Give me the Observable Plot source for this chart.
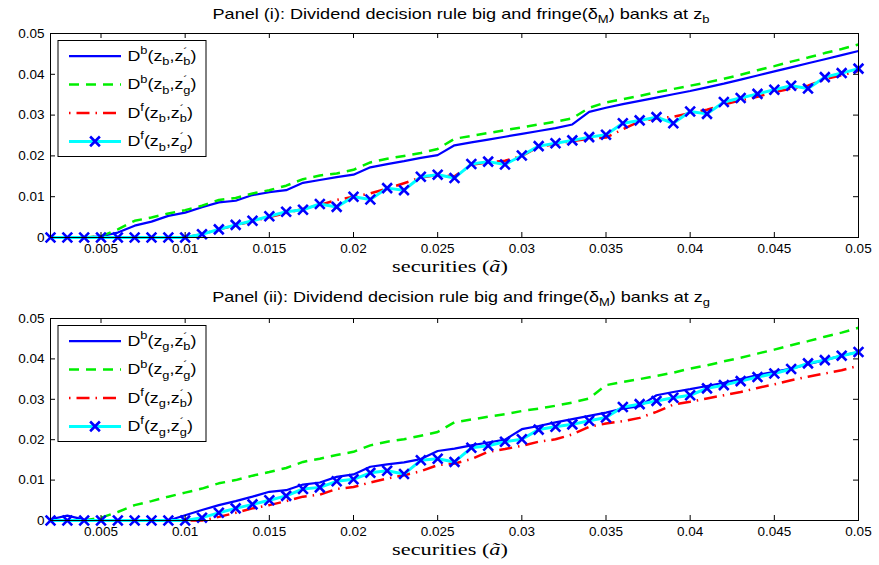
<!DOCTYPE html>
<html><head><meta charset="utf-8">
<script src="https://cdn.jsdelivr.net/npm/d3@7"></script>
<script src="https://cdn.jsdelivr.net/npm/@observablehq/plot@0.6"></script>
<style>
body{margin:0;background:#fff}
#chart{width:879px;height:565px;overflow:hidden}
#chart svg{display:block}
</style>
</head><body><div id="chart"></div>
<script>
// ---------- DATA ----------
const securities = [0.002,0.003,0.004,0.005,0.006,0.007,0.008,0.009,0.010,0.011,0.012,0.013,0.014,0.015,0.016,0.017,0.018,0.019,0.020,0.021,0.022,0.023,0.024,0.025,0.026,0.027,0.028,0.029,0.030,0.031,0.032,0.033,0.034,0.035,0.036,0.037,0.038,0.039,0.040,0.041,0.042,0.043,0.044,0.045,0.046,0.047,0.048,0.049,0.050];

// Panel (i): at z_b
const p1_Db_zb = [0,0,0,0.0003,0.0012,0.0029,0.0039,0.0053,0.0061,0.0074,0.0086,0.0090,0.0104,0.0111,0.0116,0.0134,0.0141,0.0148,0.0154,0.0172,0.0180,0.0187,0.0195,0.0202,0.0226,0.0233,0.0240,0.0247,0.0254,0.0261,0.0268,0.0277,0.0308,0.0318,0.0327,0.0335,0.0343,0.0351,0.0359,0.0368,0.0377,0.0387,0.0397,0.0407,0.0417,0.0427,0.0437,0.0447,0.0457];
const p1_Db_zg = [0,0,0,0.0003,0.0020,0.0041,0.0049,0.0059,0.0067,0.0078,0.0092,0.0097,0.0108,0.0116,0.0127,0.0143,0.0152,0.0157,0.0166,0.0184,0.0193,0.0200,0.0207,0.0217,0.0242,0.0249,0.0256,0.0263,0.0270,0.0277,0.0284,0.0292,0.0318,0.0331,0.0339,0.0347,0.0356,0.0364,0.0372,0.0380,0.0389,0.0399,0.0410,0.0420,0.0431,0.0441,0.0452,0.0462,0.0473];
const p1_Df_zb = [0,0,0,0,0,0,0,0,0,0.0008,0.0020,0.0030,0.0040,0.0050,0.0060,0.0070,0.0080,0.0092,0.0100,0.0108,0.0120,0.0133,0.0147,0.0153,0.0150,0.0178,0.0184,0.0188,0.0200,0.0222,0.0229,0.0236,0.0242,0.0245,0.0265,0.0285,0.0292,0.0296,0.0305,0.0313,0.0326,0.0336,0.0345,0.0356,0.0365,0.0372,0.0388,0.0398,0.0408];
const p1_Df_zg = [0,0,0,0,0,0,0,0,0,0.0008,0.0020,0.0031,0.0041,0.0052,0.0063,0.0068,0.0082,0.0075,0.0100,0.0093,0.0121,0.0116,0.0149,0.0154,0.0146,0.0180,0.0186,0.0179,0.0201,0.0224,0.0231,0.0238,0.0246,0.0252,0.0280,0.0287,0.0295,0.0280,0.0309,0.0303,0.0332,0.0342,0.0352,0.0362,0.0372,0.0365,0.0393,0.0403,0.0414];

// Panel (ii): at z_g
const p2_Db_zb = [0.0003,0.0012,0.0002,0,0,0,0,0,0.0013,0.0026,0.0038,0.0048,0.0059,0.0071,0.0075,0.0089,0.0094,0.0108,0.0114,0.0133,0.0139,0.0144,0.0152,0.0172,0.0178,0.0186,0.0193,0.0200,0.0226,0.0234,0.0243,0.0251,0.0259,0.0267,0.0277,0.0283,0.0310,0.0318,0.0325,0.0333,0.0341,0.0350,0.0360,0.0368,0.0376,0.0387,0.0397,0.0408,0.0417];
const p2_Db_zg = [0,0,0,0.0007,0.0021,0.0038,0.0048,0.0059,0.0069,0.0079,0.0092,0.0100,0.0111,0.0120,0.0130,0.0145,0.0153,0.0162,0.0170,0.0186,0.0195,0.0201,0.0210,0.0219,0.0243,0.0250,0.0257,0.0263,0.0271,0.0277,0.0284,0.0292,0.0302,0.0335,0.0343,0.0350,0.0358,0.0366,0.0376,0.0384,0.0394,0.0403,0.0413,0.0423,0.0434,0.0444,0.0455,0.0465,0.0477];
const p2_Df_zb = [0,0,0,0,0,0,0,0,0,0,0.0009,0.0019,0.0030,0.0038,0.0048,0.0059,0.0064,0.0078,0.0083,0.0094,0.0104,0.0112,0.0122,0.0137,0.0141,0.0152,0.0170,0.0177,0.0185,0.0195,0.0201,0.0213,0.0232,0.0240,0.0246,0.0254,0.0269,0.0287,0.0294,0.0302,0.0310,0.0318,0.0328,0.0337,0.0347,0.0356,0.0364,0.0372,0.0383];
const p2_Df_zg = [0,0,0,0,0,0,0,0,0,0.0007,0.0019,0.0030,0.0040,0.0050,0.0061,0.0078,0.0082,0.0097,0.0102,0.0118,0.0123,0.0115,0.0149,0.0153,0.0145,0.0180,0.0185,0.0195,0.0201,0.0225,0.0232,0.0238,0.0247,0.0255,0.0281,0.0288,0.0296,0.0304,0.0310,0.0327,0.0335,0.0345,0.0355,0.0364,0.0375,0.0389,0.0397,0.0408,0.0417];

const xTicks = [0.005,0.01,0.015,0.02,0.025,0.03,0.035,0.04,0.045,0.05];
const xTickLabels = ["0.005","0.01","0.015","0.02","0.025","0.03","0.035","0.04","0.045","0.05"];
const yTicks = [0,0.01,0.02,0.03,0.04,0.05];
const yTickLabels = ["0","0.01","0.02","0.03","0.04","0.05"];

const p1Title = "Panel (i): Dividend decision rule big and fringe(δ_{M}) banks at z_{b}";
const p2Title = "Panel (ii): Dividend decision rule big and fringe(δ_{M}) banks at z_{g}";
const p1Labels = ["D^{b}(z_{b},z'_{b})","D^{b}(z_{b},z'_{g})","D^{f}(z_{b},z'_{b})","D^{f}(z_{b},z'_{g})"];
const p2Labels = ["D^{b}(z_{g},z'_{b})","D^{b}(z_{g},z'_{g})","D^{f}(z_{g},z'_{b})","D^{f}(z_{g},z'_{g})"];
const xLabel = "securities";

// ---------- STYLE ----------
const styles = [
  {stroke:"#0000ff", strokeWidth:2.2, dash:null},
  {stroke:"#00ee00", strokeWidth:2.5, dash:"10,7"},
  {stroke:"#ff0000", strokeWidth:2.5, dash:"1.5,6,13,6"},
  {stroke:"#00ffff", strokeWidth:3, dash:null, marker:true}
];
const W = 879, ML = 50, MR = 21;
const FONT = "'Liberation Sans', Arial, Helvetica, sans-serif";

function addRich(textSel, str, fs) {
  const tokens = str.split(/(\^\{[^}]*\}|_\{[^}]*\}|')/).filter(s => s !== "");
  let shift = 0, afterPrime = false;
  for (const tok of tokens) {
    let target = 0, txt = tok, size = fs, dx = 0;
    if (tok.startsWith("^{")) { target = -0.42*fs; txt = tok.slice(2,-1); size = 0.72*fs; }
    else if (tok.startsWith("_{")) { target = 0.3*fs; txt = tok.slice(2,-1); size = 0.72*fs; if (afterPrime) dx = -0.24*fs; }
    else if (tok === "'") { target = -0.3*fs; txt = "´"; size = 0.72*fs; }
    const t = textSel.append("tspan").attr("dy", target - shift).attr("font-size", size).text(txt);
    if (dx) t.attr("dx", dx);
    shift = target;
    afterPrime = (tok === "'");
  }
}

function fitText(g, x, y, targetW) {
  const w = g.node().getBBox().width;
  const s = targetW / w;
  g.attr("transform", `translate(${x},${y}) scale(${s},1)`);
  return s;
}

function panel({height, mt, mb, vals, title, labels}) {
  const innerH = height - mt - mb, innerW = W - ML - MR;
  const marks = [];
  vals.forEach((v, k) => {
    const data = securities.map((x, i) => ({x, y: v[i]}));
    const st = styles[k];
    marks.push(Plot.line(data, {x: "x", y: "y", stroke: st.stroke, strokeWidth: st.strokeWidth,
      strokeDasharray: st.dash ?? undefined, strokeLinejoin: "round", strokeLinecap: "butt"}));
    if (st.marker) marks.push(Plot.dot(data, {x: "x", y: "y", symbol: "times", r: 4.5, stroke: "#0000ff", strokeWidth: 2.6}));
  });
  marks.push(Plot.frame({stroke: "black", strokeWidth: 1}));
  marks.push(Plot.tickX(xTicks, {x: d => d, insetTop: innerH - 5, stroke: "black"}));
  marks.push(Plot.tickX(xTicks, {x: d => d, insetBottom: innerH - 5, stroke: "black"}));
  marks.push(Plot.tickY(yTicks, {y: d => d, insetRight: innerW - 5, stroke: "black"}));
  marks.push(Plot.tickY(yTicks, {y: d => d, insetLeft: innerW - 5, stroke: "black"}));
  const svg = Plot.plot({
    width: W, height, marginLeft: ML, marginRight: MR, marginTop: mt, marginBottom: mb,
    style: {fontFamily: FONT, fontSize: "13.5px", color: "black", background: "white", overflow: "visible"},
    x: {domain: [0.002, 0.05], ticks: xTicks, tickFormat: d => xTickLabels[xTicks.indexOf(d)], tickSize: 0, tickPadding: 6, label: null},
    y: {domain: [0, 0.05], ticks: yTicks, tickFormat: d => yTickLabels[yTicks.indexOf(d)], tickSize: 0, tickPadding: 6, label: null},
    marks
  });
  document.getElementById("chart").appendChild(svg);
  const s = d3.select(svg);

  // title
  const tg = s.append("g");
  const tt = tg.append("text").attr("text-anchor", "middle").attr("font-family", FONT).attr("font-size", 14).attr("fill", "black");
  addRich(tt, title, 14);
  fitText(tg, 461, 18.5, 498);

  // x label
  const xg = s.append("g");
  const xt = xg.append("text").attr("text-anchor", "middle").attr("font-family", "'Liberation Serif', 'DejaVu Serif', serif").attr("font-size", 17).attr("fill", "black");
  xt.append("tspan").text(xLabel + " (");
  xt.append("tspan").attr("font-style", "italic").text("ã");
  xt.append("tspan").text(")");
  fitText(xg, 450, mt + innerH + 34.5, 116);

  // legend
  const boxTop = mt + 7.5;
  const lg = s.append("g");
  lg.append("rect").attr("x", 58).attr("y", boxTop).attr("width", 148).attr("height", 116)
    .attr("fill", "white").attr("stroke", "black").attr("stroke-width", 1);
  let scale = null;
  labels.forEach((lab, k) => {
    const ry = boxTop + 15.7 + k * 28.4;
    const st = styles[k];
    lg.append("line").attr("x1", 69).attr("x2", 121).attr("y1", ry).attr("y2", ry)
      .attr("stroke", st.stroke).attr("stroke-width", st.strokeWidth)
      .attr("stroke-dasharray", st.dash);
    if (st.marker) {
      lg.append("path").attr("d", d3.symbol(d3.symbolTimes, Math.PI * 4.5 * 4.5)())
        .attr("transform", `translate(95,${ry})`).attr("fill", "none")
        .attr("stroke", "#0000ff").attr("stroke-width", 2.6);
    }
    const g = lg.append("g");
    const t = g.append("text").attr("text-anchor", "start").attr("font-family", FONT).attr("font-size", 15.5).attr("fill", "black");
    addRich(t, lab, 15.5);
    if (scale === null) scale = fitText(g, 127.5, ry + 4.5, 69);
    else g.attr("transform", `translate(127.5,${ry + 4.5}) scale(${scale},1)`);
  });
}

panel({height: 283, mt: 33, mb: 46, vals: [p1_Db_zb, p1_Db_zg, p1_Df_zb, p1_Df_zg], title: p1Title, labels: p1Labels});
panel({height: 282, mt: 35, mb: 45, vals: [p2_Db_zb, p2_Db_zg, p2_Df_zb, p2_Df_zg], title: p2Title, labels: p2Labels});
</script>
</body></html>
